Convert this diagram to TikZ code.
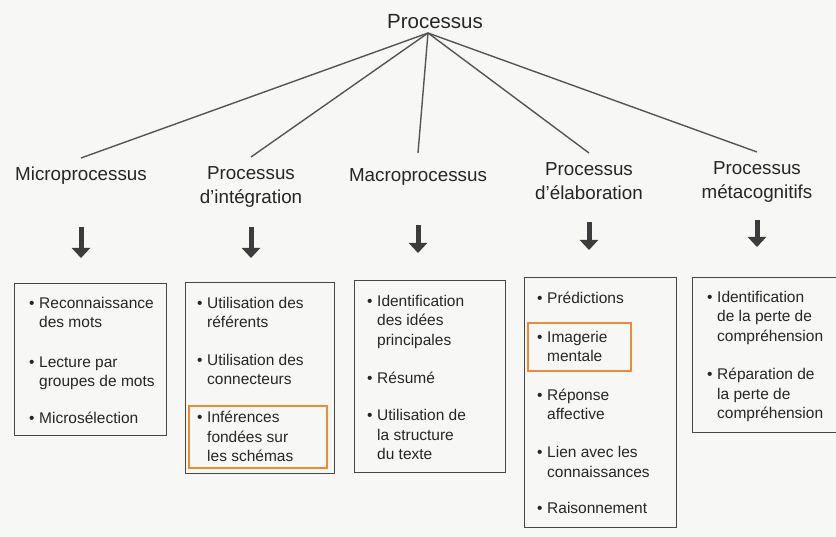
\documentclass[tikz,border=0pt]{standalone}
\usepackage{fontspec}
\setmainfont{Liberation Sans}
\usepackage{tikz}
\usetikzlibrary{arrows.meta}
\usetikzlibrary{positioning}

\definecolor{ink}{HTML}{262626}
\definecolor{rulegray}{HTML}{555555}
\definecolor{hiorange}{HTML}{EE8A35}
\definecolor{paper}{HTML}{F7F7F5}

\newcommand{\bul}{\rule{0pt}{12pt}\makebox[10pt][l]{\textbullet}}
\newcommand{\hng}{\hspace*{10pt}}

\tikzset{
  rootlabel/.style={text=ink,font=\fontsize{20.5}{24}\selectfont},
  proc/.style={align=center,text=ink,inner sep=9pt,
    font=\fontsize{18.8}{24}\selectfont},
  listbox/.style={draw=ink!85,line width=1.1pt,anchor=north west,inner sep=0pt},
  entry/.style={anchor=north west,align=left,text=ink,inner sep=0pt,
    font=\fontsize{15.5}{19.8}\selectfont},
  hilite/.style={draw=hiorange,line width=2.4pt,anchor=north west,inner sep=0pt},
  branch/.style={draw=rulegray,line width=1.4pt},
  down/.style={-{Triangle[width=18pt,length=10pt]},line width=5pt,draw=ink!90}
}

\begin{document}
\begin{tikzpicture}[x=1pt,y=-1pt]
\useasboundingbox[fill=paper] (0,0) rectangle (836,537);

\node[rootlabel] at (435,22) (root) {Processus};
\coordinate (apex) at (428,33);

\node[proc,anchor=north] at (81,158) (micro) {Microprocessus};
\node[proc,anchor=north] at (251,157) (integ) {Processus\\d'intégration};
\node[proc,anchor=north,inner ysep=15pt] at (418,153) (macro) {Macroprocessus};
\node[proc,anchor=north] at (589,153) (elab) {Processus\\d'élaboration};
\node[proc,anchor=north] at (757,152) (meta) {Processus\\métacognitifs};

\foreach \hd in {micro,integ,macro,elab,meta}
  \draw[branch] (apex) -- (\hd.north);

\node[listbox,minimum width=152,minimum height=152] at (14,283) (box1) {};
\node[listbox,minimum width=149,minimum height=191] at (185,282) (box2) {};
\node[listbox,minimum width=151,minimum height=192] at (354,280) (box3) {};
\node[listbox,minimum width=152,minimum height=250] at (524,277) (box4) {};
\node[listbox,minimum width=150,minimum height=155] at (692,277) (box5) {};

\foreach \hd/\bx/\tp/\gap in {micro/box1/227/25,integ/box2/227/24,
    macro/box3/225/27,elab/box4/222/27,meta/box5/220/30}
  \draw[down,shorten >=\gap pt] (\hd.north |- 0,\tp) -- (\hd.north |- \bx.north);

\node[entry] at (29,296) (mic1) {\bul Reconnaissance\\\hng des mots};
\node[entry] at (29,355) (mic2) {\bul Lecture par\\\hng groupes de mots};
\node[entry] at (29,411) (mic3) {\bul Microsélection};

\node[entry] at (197,296) (int1) {\bul Utilisation des\\\hng référents};
\node[entry] at (197,353) (int2) {\bul Utilisation des\\\hng connecteurs};
\node[entry] at (197,410) (int3) {\bul Inférences\\\hng fondées sur\\\hng les schémas};
\node[hilite,minimum width=138,minimum height=62] at (188,405) (hl1) {};

\node[entry] at (367,294) (mac1) {\bul Identification\\\hng des idées\\\hng principales};
\node[entry] at (367,371) (mac2) {\bul Résumé};
\node[entry] at (367,408) (mac3) {\bul Utilisation de\\\hng la structure\\\hng du texte};

\node[entry] at (537,291) (ela1) {\bul Prédictions};
\node[entry] at (537,330) (ela2) {\bul Imagerie\\\hng mentale};
\node[entry] at (537,388) (ela3) {\bul Réponse\\\hng affective};
\node[entry] at (537,445) (ela4) {\bul Lien avec les\\\hng connaissances};
\node[entry] at (537,501) (ela5) {\bul Raisonnement};
\node[hilite,minimum width=103,minimum height=48] at (527,322) (hl2) {};

\node[entry] at (707,290) (met1) {\bul Identification\\\hng de la perte de\\\hng compréhension};
\node[entry] at (707,367) (met2) {\bul Réparation de\\\hng la perte de\\\hng compréhension};
\end{tikzpicture}
\end{document}
